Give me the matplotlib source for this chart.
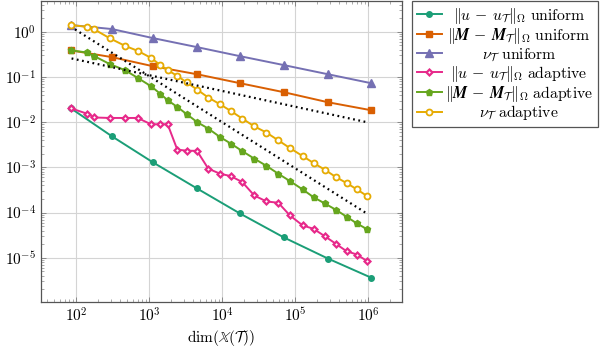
import matplotlib.pyplot as plt
import matplotlib.ticker as mticker
import numpy as np

plt.rcParams['mathtext.fontset'] = 'cm'
plt.rcParams['font.family'] = 'serif'
plt.rcParams['font.serif'] = ['DejaVu Serif']
plt.rcParams['xtick.direction'] = 'in'
plt.rcParams['ytick.direction'] = 'in'

# uniform refinement
dofs_unif = [85, 310, 1130, 4520, 17500, 70000, 280000, 1087000]
u_unif = [0.0203, 4.87e-3, 1.29e-3, 3.42e-4, 9.55e-5, 2.81e-5, 9.6e-6, 3.64e-6]
M_unif = [0.388, 0.275, 0.173, 0.115, 0.0729, 0.046, 0.0276, 0.0184]
nu_unif = [1.41, 1.15, 0.725, 0.458, 0.289, 0.183, 0.115, 0.073]

# adaptive refinement
dofs_adap = [85, 140, 178, 292, 468, 698, 1062, 1409, 1795, 2431, 3281, 4520,
             6457, 9333, 13120, 18850, 27490, 40360, 58500, 84560, 126100,
             177800, 253300, 360600, 505000, 698500, 966800]
u_adap = [0.0203, 0.0155, 0.0127, 0.0124, 0.0124, 0.0124, 0.00898, 0.00898,
          0.00898, 0.00247, 0.00234, 0.00232, 9.36e-4, 7.24e-4, 6.41e-4,
          4.72e-4, 2.39e-4, 1.76e-4, 1.65e-4, 8.63e-5, 5.2e-5, 4.37e-5,
          3.0e-5, 2.03e-5, 1.39e-5, 1.18e-5, 8.36e-6]
M_adap = [0.388, 0.349, 0.289, 0.192, 0.1415, 0.0955, 0.0625, 0.0431, 0.0306,
          0.0217, 0.0150, 0.0101, 0.00721, 0.00470, 0.00336, 0.00229, 0.00156,
          0.00108, 7.24e-4, 4.97e-4, 3.25e-4, 2.19e-4, 1.59e-4, 1.15e-4,
          8.07e-5, 5.73e-5, 4.26e-5]
nu_adap = [1.41, 1.29, 1.13, 0.714, 0.489, 0.379, 0.265, 0.186, 0.1415,
           0.1057, 0.0755, 0.0528, 0.0351, 0.0249, 0.0177, 0.0120, 0.0081,
           0.00588, 0.00397, 0.00267, 0.00178, 0.00125, 8.89e-4, 6.09e-4,
           4.49e-4, 3.25e-4, 2.31e-4]

# reference slopes
ref1_x = [97, 9.67e5]
ref1_y = [1.13, 9.4e-5]
ref2_x = [87, 9.27e5]
ref2_y = [0.257, 0.0101]

c_teal = '#1b9e77'
c_orange = '#d95f02'
c_purple = '#7570b3'
c_pink = '#e7298a'
c_green = '#66a61e'
c_yellow = '#e6ab02'

fig = plt.figure(figsize=(6.05, 3.51), dpi=100)
ax = fig.add_axes([41 / 605, 1 - 302 / 351, 360.7 / 605, 301 / 351])

lw = 1.4
ax.plot(dofs_unif, u_unif, color=c_teal, lw=lw, marker='o', ms=4,
        label=r'$\|u\,-\,u_{\mathcal{T}}\|_{\Omega}\ \mathrm{uniform}$')
ax.plot(dofs_unif, M_unif, color=c_orange, lw=lw, marker='s', ms=4.5,
        label=r'$\|\boldsymbol{M}\,-\,\boldsymbol{M}_{\mathcal{T}}\|_{\Omega}\ \mathrm{uniform}$')
ax.plot(dofs_unif, nu_unif, color=c_purple, lw=lw, marker='^', ms=5.5,
        label=r'$\nu_{\mathcal{T}}\ \mathrm{uniform}$')
ax.plot(dofs_adap, u_adap, color=c_pink, lw=lw, marker='D', ms=3,
        mfc='white', mew=1.6,
        label=r'$\|u\,-\,u_{\mathcal{T}}\|_{\Omega}\ \mathrm{adaptive}$')
ax.plot(dofs_adap, M_adap, color=c_green, lw=lw, marker='p', ms=4.8,
        label=r'$\|\boldsymbol{M}\,-\,\boldsymbol{M}_{\mathcal{T}}\|_{\Omega}\ \mathrm{adaptive}$')
ax.plot(dofs_adap, nu_adap, color=c_yellow, lw=lw, marker='o', ms=4.3,
        mfc='white', mew=1.3,
        label=r'$\nu_{\mathcal{T}}\ \mathrm{adaptive}$')
ax.plot(ref1_x, ref1_y, color='black', lw=1.6, ls=(0, (0.8, 1.6)))
ax.plot(ref2_x, ref2_y, color='black', lw=1.6, ls=(0, (0.8, 1.6)))

ax.set_xscale('log')
ax.set_yscale('log')
ax.set_xlim(33.2, 2.86e6)
ax.set_ylim(1.05e-6, 4.8)

fmt = mticker.FuncFormatter(lambda v, p: r'$10^{%d}$' % round(np.log10(v)))
for axis in (ax.xaxis, ax.yaxis):
    axis.set_major_locator(mticker.LogLocator(base=10, numticks=20))
    axis.set_minor_locator(mticker.LogLocator(base=10, subs=np.arange(2, 10), numticks=20))
    axis.set_major_formatter(fmt)
    axis.set_minor_formatter(mticker.NullFormatter())

ax.grid(True, which='major', color='#d4d4d4', lw=0.8)
ax.set_axisbelow(True)
ax.tick_params(which='both', top=True, right=True, color='#888888', labelsize=11)
ax.tick_params(which='major', length=3.5, width=0.7)
ax.tick_params(which='minor', length=2, width=0.5)
for s in ax.spines.values():
    s.set_color('#555555')
    s.set_linewidth(0.9)

ax.set_xlabel(r'$\mathrm{dim}(\mathbb{X}(\mathcal{T}))$', fontsize=11, labelpad=2)

leg = fig.legend(loc='upper left', bbox_to_anchor=(412 / 605, 1 - 1 / 351),
                 fancybox=False, edgecolor='#555555', framealpha=1,
                 fontsize=11.3, handlelength=1.6, borderaxespad=0,
                 labelspacing=0.0, borderpad=0.3, handletextpad=0.2)
leg.get_frame().set_linewidth(0.9)

# centre the legend entries like pgfplots does
fig.canvas.draw()
widths = [t.get_window_extent().width for t in leg.get_texts()]
wmax = max(widths)
for t, w in zip(leg.get_texts(), widths):
    t.set_x((wmax - w) / 2)

fig.savefig('out.png', dpi=100)
